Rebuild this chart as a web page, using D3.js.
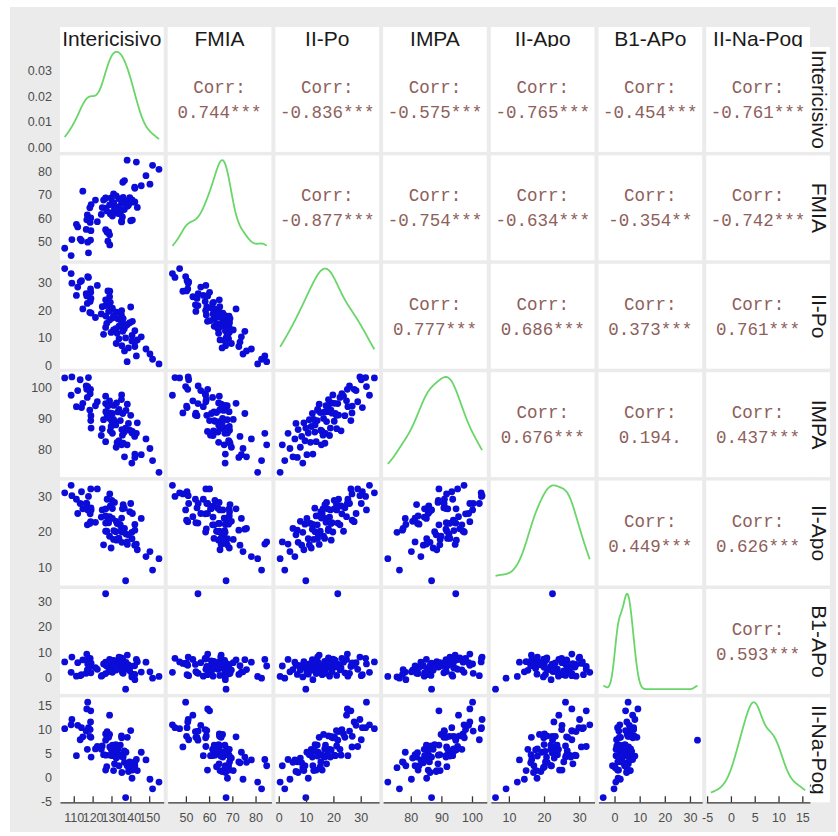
<!DOCTYPE html>
<html>
<head>
<meta charset="utf-8">
<script src="https://cdn.jsdelivr.net/npm/d3@7"></script>
<style>
  body { margin: 0; background: #fff; }
  text { font-family: "Liberation Sans", Arial, sans-serif; }
</style>
</head>
<body>
<svg id="chart" width="838" height="836"></svg>
<script>
// pairs plot of 7 cephalometric measures (ggpairs style)

var names = ["Intericisivo", "FMIA", "II-Po", "IMPA", "II-Apo", "B1-APo", "II-Na-Pog"];

var intericisivo = [105.2, 108.6, 117.8, 114.1, 117.4, 109.0, 122.5, 118.9, 113.4, 129.1,
  112.1, 116.6, 119.0, 129.0, 111.4, 126.9, 119.1, 126.9, 129.4, 118.7,
  127.7, 117.2, 130.5, 125.1, 135.4, 130.2, 128.5, 119.2, 132.7, 124.6,
  127.0, 135.3, 131.6, 130.5, 133.5, 121.5, 141.1, 129.0, 135.4, 127.5,
  138.4, 139.7, 134.7, 126.9, 137.7, 136.8, 131.1, 142.4, 129.8, 136.0,
  133.0, 140.9, 125.8, 145.8, 137.5, 134.0, 140.8, 143.7, 132.5, 142.3,
  135.5, 142.4, 148.3, 139.0, 136.9, 150.4, 143.2, 151.8, 155.2, 138.3,
  140.2, 131.2, 135.8, 118.5, 134.0, 136.2, 132.3, 114.8, 128.1, 116.9];

var fmia = [47.3, 44.2, 45.3, 50.5, 49.9, 51.0, 58.6, 50.8, 51.2, 48.7,
  56.4, 55.3, 60.2, 53.0, 57.5, 64.4, 54.8, 55.2, 61.9, 58.3,
  54.1, 61.5, 61.0, 64.6, 58.5, 62.5, 54.3, 65.9, 64.1, 61.7,
  68.6, 58.8, 64.3, 66.8, 62.1, 67.8, 59.3, 65.8, 66.5, 63.2,
  65.2, 68.8, 62.2, 68.7, 66.3, 63.8, 70.4, 67.0, 68.7, 75.4,
  64.1, 67.9, 67.8, 73.9, 67.3, 68.4, 66.9, 64.7, 69.6, 73.3,
  67.1, 72.8, 78.2, 65.6, 76.1, 74.6, 84.0, 82.6, 80.9, 84.8,
  59.0, 66.7, 60.6, 64.5, 65.0, 69.0, 64.1, 71.6, 50.3, 59.4];

var iiPo = [35.0, 33.2, 31.8, 30.6, 32.1, 29.7, 28.9, 27.6, 30.2, 26.8,
  28.3, 25.9, 26.4, 24.8, 25.3, 23.7, 24.2, 21.6, 22.8, 23.1,
  21.9, 22.4, 20.7, 21.2, 19.8, 20.3, 19.5, 18.9, 19.2, 18.6,
  17.8, 18.2, 17.5, 17.1, 16.8, 17.3, 15.9, 16.4, 15.6, 15.2,
  14.8, 15.4, 14.1, 13.7, 14.4, 13.2, 12.8, 12.5, 11.9, 12.3,
  11.6, 10.8, 11.2, 10.3, 9.9, 9.6, 8.8, 9.2, 7.9, 8.4,
  7.1, 6.8, 5.9, 6.3, 5.2, 4.1, 3.4, 2.2, 0.5, 1.3,
  21.1, 18.1, 16.2, 19.1, 14.2, 16.9, 13.3, 20.4, 26.9, 25.1];

var impa = [103.0, 97.4, 103.1, 93.4, 100.2, 103.3, 95.3, 99.3, 102.4, 91.7,
  98.9, 100.4, 89.2, 95.6, 93.7, 97.1, 90.8, 94.7, 85.9, 97.9,
  91.0, 96.7, 91.5, 86.6, 97.5, 89.0, 91.6, 86.8, 94.9, 84.4,
  92.1, 96.0, 88.9, 85.1, 92.0, 94.0, 85.7, 89.9, 81.4, 91.8,
  94.5, 86.1, 89.2, 82.4, 92.5, 85.5, 89.6, 78.4, 87.3, 91.5,
  82.2, 85.2, 89.5, 78.2, 86.8, 82.7, 75.5, 88.5, 80.6, 84.1,
  86.3, 77.3, 83.3, 88.3, 77.5, 80.2, 85.1, 76.3, 72.5, 81.4,
  90.9, 94.1, 84.5, 92.6, 92.8, 81.9, 87.8, 94.8, 93.9, 99.3];

var iiApo = [30.9, 33.0, 29.9, 31.2, 26.1, 30.1, 32.0, 22.8, 27.9, 30.6,
  25.1, 27.9, 32.0, 24.2, 29.1, 20.1, 26.7, 22.4, 27.2, 25.0,
  29.1, 21.9, 26.5, 26.1, 19.9, 28.8, 22.5, 26.1, 17.6, 24.1,
  26.4, 20.8, 28.2, 23.7, 18.1, 22.6, 25.1, 18.7, 23.8, 20.1,
  16.4, 25.6, 21.9, 24.4, 19.3, 26.6, 17.8, 22.0, 15.4, 20.7,
  22.3, 18.0, 16.3, 23.7, 6.2, 22.1, 19.8, 14.9, 22.9, 16.2,
  17.0, 20.4, 13.0, 19.1, 20.9, 14.4, 16.5, 9.2, 12.4, 17.1,
  27.9, 20.3, 26.4, 22.3, 18.1, 27.6, 20.0, 26.4, 23.2, 27.9];

var b1Apo = [6.2, 2.1, 7.6, 1.2, 5.4, 8.1, 3.3, 4.9, 0.8, 5.6,
  5.9, 1.7, 4.4, 7.2, 0.6, 6.1, 1.9, 33.0, 3.8, 7.6,
  5.2, 3.1, 6.6, 0.9, 7.3, 4.2, 2.4, 5.7, 3.6, 0.6,
  4.9, 7.8, 5.5, 2.1, 6.4, 3.9, 1.2, 5.1, 3.4, 4.6,
  8.9, 2.7, 4.3, 1.6, 6.0, 3.3, 5.9, -0.8, 2.9, 7.1,
  3.8, 1.4, 5.4, 2.2, -4.5, 4.0, 0.3, 6.3, 3.0, 4.7,
  4.8, 1.3, 6.1, 5.0, 3.2, 2.3, 7.2, -0.2, 0.5, 4.6,
  4.4, 6.8, 2.0, 5.3, 8.1, 1.7, 4.1, 7.0, 5.8, 9.3];

var iiNaPog = [10.1, 10.9, 10.3, 10.3, 15.6, 12.0, 6.4, 11.5, 7.8, 6.3,
  10.8, 9.6, 13.8, 12.9, 4.5, 9.0, 8.3, 7.7, 4.6, 9.9,
  9.5, 5.8, 4.5, 6.5, 8.2, 4.6, 8.3, 4.2, 5.7, 5.8,
  4.6, 8.6, 2.8, 6.7, 5.9, 5.9, 1.5, 8.9, 4.7, 2.2,
  8.3, 3.2, 6.7, 1.5, 5.2, 5.5, 1.4, 2.4, 5.8, 4.2,
  5.1, -0.2, 4.7, 5.2, -4.2, 2.4, 2.0, 1.4, 4.0, 3.0,
  1.0, 3.2, 3.6, 1.2, 3.1, -0.4, 3.7, -2.4, -1.0, 2.4,
  9.7, 5.4, 4.5, 8.5, 4.4, 4.2, 6.8, 8.4, 8.5, 14.2];

var columns = [intericisivo, fmia, iiPo, impa, iiApo, b1Apo, iiNaPog];

var axisTicks = [[110, 120, 130, 140, 150], [50, 60, 70, 80], [0, 10, 20, 30],
  [80, 90, 100], [10, 20, 30], [0, 10, 20, 30], [-5, 0, 5, 10, 15]];
var densityTicks = [0, 0.01, 0.02, 0.03];

// upper triangle, row by row
var corrLabels = [
  ["0.744***", "-0.836***", "-0.575***", "-0.765***", "-0.454***", "-0.761***"],
  ["-0.877***", "-0.754***", "-0.634***", "-0.354**", "-0.742***"],
  ["0.777***", "0.686***", "0.373***", "0.761***"],
  ["0.676***", "0.194.", "0.437***"],
  ["0.449***", "0.626***"],
  ["0.593***"]
];

var padLeft = 60, padTop = 47, pw = 103.7, ph = 104.9, gapX = 4, gapY = 3.5;
var nVars = names.length;
function colX(i) { return padLeft + i * (pw + gapX); }
function rowY(i) { return padTop + i * (ph + gapY); }
var stripX = padLeft + 7 * pw + 6 * gapX;
var plain = function(d) { return String(d); };

var svg = d3.select("#chart");
svg.append("rect").attr("x", 10).attr("y", 7).attr("width", 826).attr("height", 825).attr("fill", "#ebebeb");

function padded(v) {
  var e = d3.extent(v), r = e[1] - e[0];
  return [e[0] - 0.05 * r, e[1] + 0.05 * r];
}
var xs = columns.map(function(v, i) {
  return d3.scaleLinear().domain(padded(v)).range([colX(i), colX(i) + pw]);
});
var ys = columns.map(function(v, i) {
  return d3.scaleLinear().domain(padded(v)).range([rowY(i) + ph, rowY(i)]);
});

// kernel density like R's density() with bw.nrd0
function kde(v) {
  var s = v.slice().sort(d3.ascending);
  var iqr = (d3.quantile(s, 0.75) - d3.quantile(s, 0.25)) / 1.34;
  var bw = 0.9 * Math.min(d3.deviation(s), iqr) * Math.pow(s.length, -0.2);
  var lo = s[0], hi = s[s.length - 1], pts = [];
  for (var k = 0; k <= 200; k++) {
    var x = lo + (hi - lo) * k / 200;
    var sum = 0;
    s.forEach(function(d) { var u = (x - d) / bw; sum += Math.exp(-0.5 * u * u); });
    pts.push([x, sum / (s.length * bw * Math.sqrt(2 * Math.PI))]);
  }
  return pts;
}

// strips
names.forEach(function(name, i) {
  svg.append("rect").attr("x", colX(i)).attr("y", 27).attr("width", pw).attr("height", padTop - 27).attr("fill", "#fff");
  svg.append("text").attr("x", colX(i) + pw / 2).attr("y", 38)
    .attr("text-anchor", "middle").attr("dominant-baseline", "central")
    .attr("font-size", 21).attr("fill", "#1a1a1a").text(name);
  svg.append("rect").attr("x", stripX).attr("y", rowY(i)).attr("width", 20).attr("height", ph).attr("fill", "#fff");
  svg.append("text")
    .attr("transform", "translate(" + (stripX + 10) + "," + (rowY(i) + ph / 2) + ") rotate(90)")
    .attr("text-anchor", "middle").attr("dominant-baseline", "central")
    .attr("font-size", 21).attr("fill", "#1a1a1a").text(name);
});

var densityY0;
for (var r = 0; r < nVars; r++) {
  for (var c = 0; c < nVars; c++) {
    var g = svg.append("g");
    g.append("rect").attr("x", colX(c)).attr("y", rowY(r)).attr("width", pw).attr("height", ph).attr("fill", "#fff");
    if (r === c) {
      var pts = kde(columns[c]);
      var maxD = d3.max(pts, function(p) { return p[1]; });
      var dy = d3.scaleLinear().domain([-0.05 * maxD, 1.05 * maxD]).range([rowY(r) + ph, rowY(r)]);
      if (r === 0) densityY0 = dy;
      g.append("path").datum(pts)
        .attr("fill", "none").attr("stroke", "#6ad66a").attr("stroke-width", 1.8)
        .attr("d", d3.line().curve(d3.curveBasis)
          .x(function(p) { return xs[c](p[0]); })
          .y(function(p) { return dy(p[1]); }));
    } else if (r > c) {
      var xv = columns[c], yv = columns[r];
      g.selectAll("circle").data(d3.range(xv.length)).enter().append("circle")
        .attr("cx", function(k) { return xs[c](xv[k]); })
        .attr("cy", function(k) { return ys[r](yv[k]); })
        .attr("r", 3.4).attr("fill", "#0c0cd8");
    } else {
      var cx = colX(c) + pw / 2, cy = rowY(r) + ph / 2;
      var mono = g.append("g").attr("font-size", 17.5).attr("fill", "#8e605b").attr("text-anchor", "middle")
        .attr("dominant-baseline", "central");
      mono.append("text").attr("x", cx).attr("y", cy - 11.5)
        .style("font-family", "'Liberation Mono', 'Courier New', monospace").text("Corr:");
      mono.append("text").attr("x", cx).attr("y", cy + 13.5)
        .style("font-family", "'Liberation Mono', 'Courier New', monospace").text(corrLabels[r][c - r - 1]);
    }
  }
}

// left labels
for (var i = 0; i < nVars; i++) {
  var sc = i === 0 ? densityY0 : ys[i];
  var ax = d3.axisLeft(sc).tickValues(i === 0 ? densityTicks : axisTicks[i]).tickSize(0).tickPadding(8)
    .tickFormat(i === 0 ? d3.format(".2f") : plain);
  var ga = svg.append("g").attr("transform", "translate(" + padLeft + ",0)").call(ax);
  ga.select(".domain").remove();
  ga.selectAll("text").attr("font-size", 12.5).attr("fill", "#4d4d4d").style("font-family", "'Liberation Sans', Arial, sans-serif");
}

// bottom axes
for (var j = 0; j < nVars; j++) {
  var bx = d3.axisBottom(xs[j]).tickValues(axisTicks[j]).tickSize(-6).tickSizeOuter(0).tickPadding(11)
    .tickFormat(plain);
  var gb = svg.append("g").attr("transform", "translate(0," + (rowY(6) + ph) + ")").call(bx);
  gb.select(".domain").attr("stroke", "#333").attr("stroke-width", 1.3);
  gb.selectAll(".tick line").attr("stroke", "#333").attr("stroke-width", 1.3);
  gb.selectAll("text").attr("font-size", 12.5).attr("fill", "#4d4d4d").style("font-family", "'Liberation Sans', Arial, sans-serif");
}
</script>
</body>
</html>
